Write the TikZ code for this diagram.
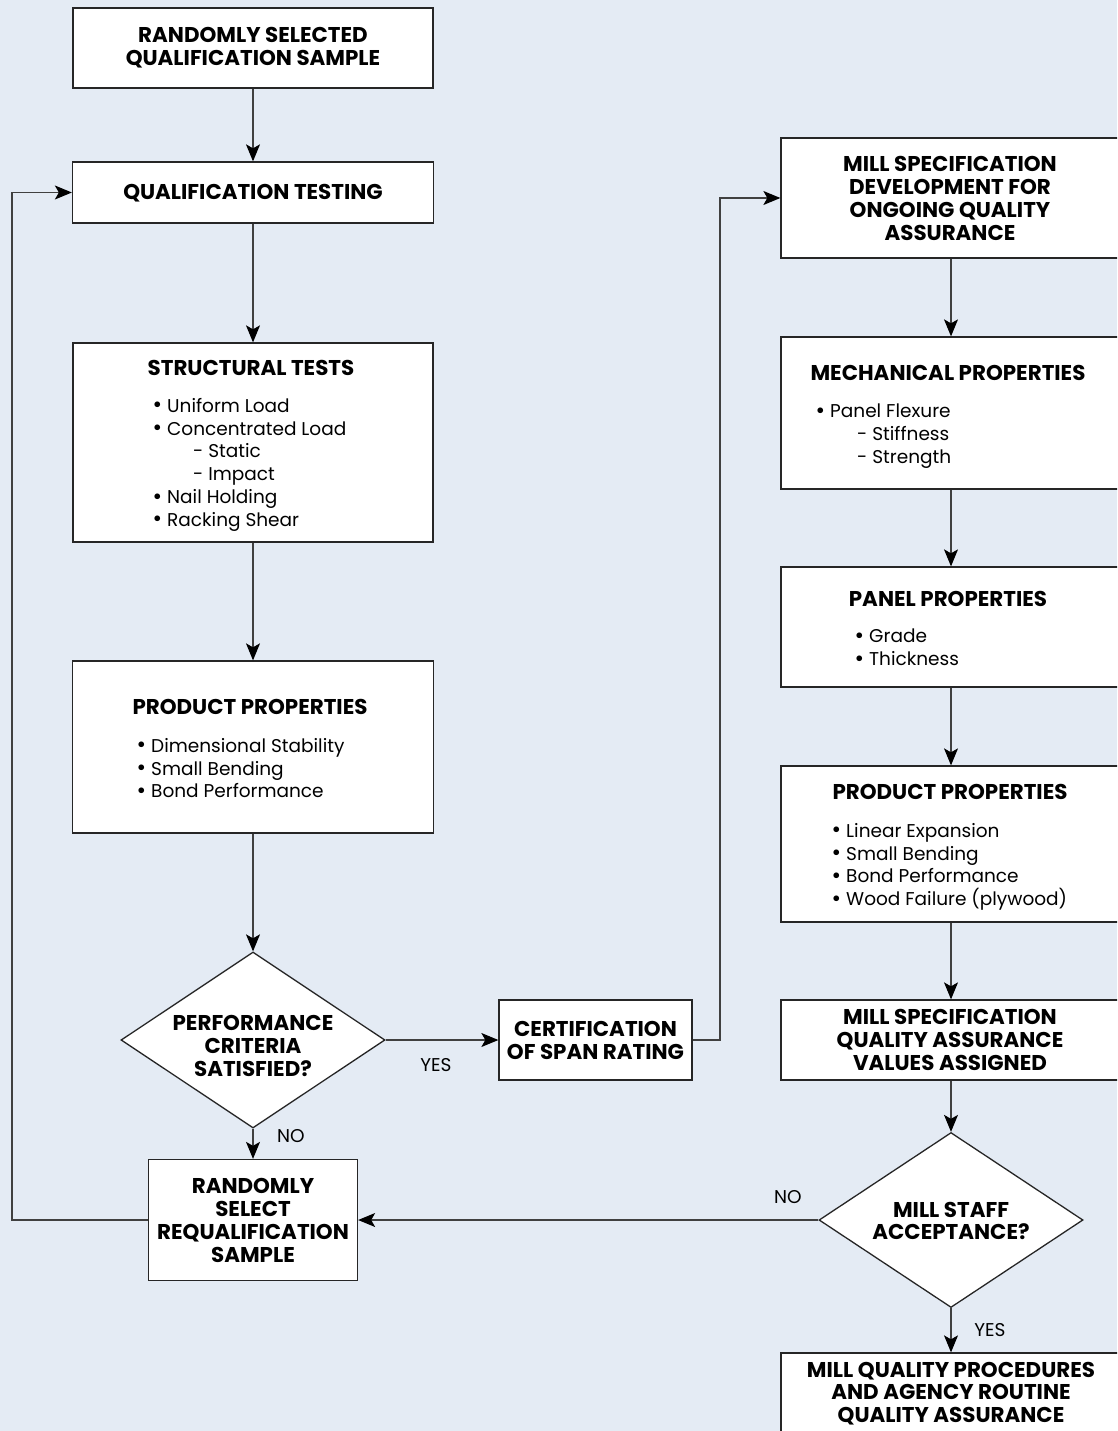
\documentclass[tikz,border=0pt]{standalone}
\usepackage{graphicx}
\usepackage{fontspec}
\setmainfont{Poppins}
\usetikzlibrary{shapes.geometric,arrows.meta}
\definecolor{bgc}{RGB}{228,235,244}
\newcommand{\ttlfont}{\fontsize{21.4}{22.8}\selectfont\bfseries}
\newcommand{\lstfont}{\fontsize{18.5}{22.8}\selectfont}
\newcommand{\itm}[1]{\makebox[12pt][l]{\hspace*{-2.5pt}\raisebox{-0.6pt}{\scalebox{1.25}{\textbullet}}}#1}
\tikzset{
  boxst/.style={rectangle, draw=black!85, fill=white, line width=1.3pt, inner sep=0pt},
  dmd/.style={diamond, draw=black!85, fill=white, line width=1.3pt, inner sep=0pt},
  ttl/.style={font=\ttlfont, align=center, inner sep=0pt},
  lst/.style={font=\lstfont, align=left, inner sep=0pt, anchor=north west},
  lbl/.style={font=\lstfont, inner sep=0pt},
  conn/.style={draw=black!75, line width=1.1pt, -{Stealth[length=17pt,width=14pt,inset=4pt,black]}}
}
\begin{document}
\begin{tikzpicture}[x=1pt,y=-1pt]
\useasboundingbox (0,0) rectangle (1117,1431);
\clip (0,0) rectangle (1117,1431);
\fill[bgc] (0,0) rectangle (1117,1431);

% left column
\node[boxst, minimum width=360pt, minimum height=80pt] (rsqs) at (253,48) {};
\node[ttl] (rsqst) at (253,48) {RANDOMLY SELECTED\\QUALIFICATION SAMPLE};

\node[boxst, minimum width=361pt, minimum height=61pt] (qt) at (253,192.5) {};
\node[ttl] (qtt) at (253,193) {QUALIFICATION TESTING};

\node[boxst, minimum width=360pt, minimum height=199pt] (st) at (253,442.5) {};
\node[ttl] (stt) at (251,368) {STRUCTURAL TESTS};
\node[lst] (stl) at (155,398) {\itm{Uniform Load}\\\itm{Concentrated Load}\\\hspace*{38pt}- Static\\\hspace*{38pt}- Impact\\\itm{Nail Holding}\\\itm{Racking Shear}};

\node[boxst, minimum width=361pt, minimum height=172pt] (ppa) at (253,747) {};
\node[ttl] (ppat) at (250,707) {PRODUCT PROPERTIES};
\node[lst] (ppal) at (139,738) {\itm{Dimensional Stability}\\\itm{Small Bending}\\\itm{Bond Performance}};

\node[dmd, minimum width=264pt, minimum height=176pt] (pc) at (253,1040) {};
\node[ttl] (pct) at (253,1046) {PERFORMANCE\\CRITERIA\\SATISFIED?};

\node[boxst, minimum width=193pt, minimum height=80pt] (cert) at (595.5,1040) {};
\node[ttl] (certt) at (595.5,1040.5) {CERTIFICATION\\OF SPAN RATING};

\node[boxst, minimum width=209pt, minimum height=121pt] (rq) at (253,1220) {};
\node[ttl] (rqt) at (253,1220.5) {RANDOMLY\\SELECT\\REQUALIFICATION\\SAMPLE};

% right column
\node[boxst, minimum width=340pt, minimum height=120pt] (msd) at (951,198) {};
\node[ttl] (msdt) at (950,198.5) {MILL SPECIFICATION\\DEVELOPMENT FOR\\ONGOING QUALITY\\ASSURANCE};

\node[boxst, minimum width=340pt, minimum height=152pt] (mp) at (951,413) {};
\node[ttl] (mpt) at (948,373) {MECHANICAL PROPERTIES};
\node[lst] (mpl) at (818,404) {\itm{Panel Flexure}\\\hspace*{39pt}- Stiffness\\\hspace*{39pt}- Strength};

\node[boxst, minimum width=340pt, minimum height=120pt] (pnl) at (951,627) {};
\node[ttl] (pnlt) at (948,599) {PANEL PROPERTIES};
\node[lst] (pnll) at (857,629) {\itm{Grade}\\\itm{Thickness}};

\node[boxst, minimum width=340pt, minimum height=156pt] (ppb) at (951,844) {};
\node[ttl] (ppbt) at (950,792) {PRODUCT PROPERTIES};
\node[lst] (ppbl) at (834,823) {\itm{Linear Expansion}\\\itm{Small Bending}\\\itm{Bond Performance}\\\itm{Wood Failure (plywood)}};

\node[boxst, minimum width=340pt, minimum height=80pt] (msqa) at (951,1040) {};
\node[ttl] (msqat) at (950,1040) {MILL SPECIFICATION\\QUALITY ASSURANCE\\VALUES ASSIGNED};

\node[dmd, minimum width=264pt, minimum height=175pt] (msa) at (951,1220) {};
\node[ttl] (msat) at (951,1221) {MILL STAFF\\ACCEPTANCE?};

\node[boxst, minimum width=340pt, minimum height=87pt] (mqp) at (951,1396.5) {};
\node[ttl] (mqpt) at (951,1393.5) {MILL QUALITY PROCEDURES\\AND AGENCY ROUTINE\\QUALITY ASSURANCE};

% labels
\node[lbl] (yes1) at (436,1065) {YES};
\node[lbl] (no1) at (291,1136) {NO};
\node[lbl] (no2) at (788,1197) {NO};
\node[lbl] (yes2) at (990,1330) {YES};

\coordinate (jog) at (720,1040);
\coordinate (loop) at (12,1220);

% connectors
\draw[conn] (rsqs) -- (qt);
\draw[conn] (qt) -- (st);
\draw[conn] (st) -- (ppa);
\draw[conn] (ppa) -- (pc);
\draw[conn] (pc) -- (rq);
\draw[conn] (pc.east) -- (cert.west);
\draw[conn] (cert.east) -- (jog) |- (msd.west);
\draw[conn] (msd) -- (mp);
\draw[conn] (mp) -- (pnl);
\draw[conn] (pnl) -- (ppb);
\draw[conn] (ppb) -- (msqa);
\draw[conn] (msqa) -- (msa);
\draw[conn] (msa) -- (mqp);
\draw[conn] (msa.west) -- (rq.east);
\draw[conn] (rq.west) -- (loop) |- (qt.west);
\end{tikzpicture}
\end{document}
